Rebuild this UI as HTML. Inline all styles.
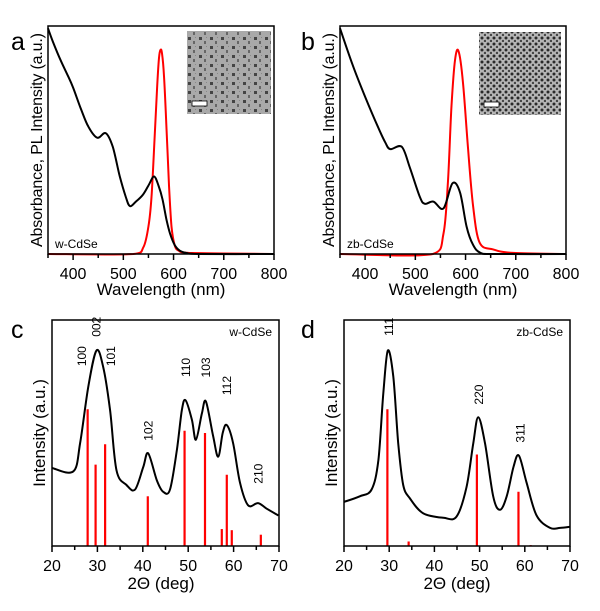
<!DOCTYPE html>
<html><head><meta charset="utf-8"><style>
html,body{margin:0;padding:0;background:#fff;}
svg{display:block;font-family:"Liberation Sans",Arial,sans-serif;}
</style></head><body>
<svg id="fig" width="600" height="611" viewBox="0 0 600 611" xmlns="http://www.w3.org/2000/svg">
<defs>
<pattern id="dotsA" width="11" height="9" patternUnits="userSpaceOnUse">
<rect width="11" height="9" fill="#a9a9a9"/>
<rect x="1" y="1" width="3" height="3" fill="#444"/>
<rect x="6" y="5" width="2" height="3" fill="#666"/>
<rect x="8" y="1" width="1" height="1" fill="#888"/>
</pattern>
<pattern id="dotsB" width="6" height="6" patternUnits="userSpaceOnUse">
<rect width="6" height="6" fill="#b5b5b5"/>
<circle cx="2" cy="2" r="1.5" fill="#2a2a2a"/>
<circle cx="5" cy="5" r="1.2" fill="#444"/>
</pattern>
</defs>
<g id="root"></g>
</svg>
<script>
// ---- Panel a data (absorbance & PL, w-CdSe) ----
const absA_x = [350,360,375,390,400,415,430,448,465,479,493,505,513,525,539,550,561,570,578,586,593,602,612,625,650,800];
const absA_y = [0.99,0.93,0.85,0.78,0.73,0.64,0.56,0.51,0.53,0.47,0.34,0.25,0.21,0.23,0.26,0.30,0.34,0.30,0.24,0.15,0.09,0.04,0.015,0.005,0,0];
const plA_x = [350,520,540,550,556,562,567,571,574,577,581,586,591,596,602,610,630,800];
const plA_y = [0,0,0.03,0.12,0.25,0.5,0.72,0.86,0.895,0.88,0.78,0.55,0.3,0.12,0.04,0.015,0.005,0];
// ---- Panel b data (zb-CdSe) ----
const absB_x = [350,375,400,425,440,450,473,489,509,519,536,556,574,589,602,615,630,660,800];
const absB_y = [0.99,0.83,0.69,0.56,0.49,0.46,0.47,0.38,0.25,0.22,0.23,0.20,0.31,0.27,0.12,0.04,0.005,0,0];
const plB_x = [350,535,556,565,572,579,586,595,605,615,628,655,695,800];
const plB_y = [0,0,0.09,0.32,0.65,0.85,0.89,0.75,0.46,0.21,0.05,0.02,0.005,0];
// ---- Panel c data (XRD w-CdSe) ----
const xrdC_x = [20,24.7,26.2,28.0,29.8,31.3,32.8,34.2,36.4,38.3,40.1,41.2,43.1,44.5,46.0,47.5,48.6,49.4,50.8,51.7,53.0,53.9,55.5,56.6,57.6,58.5,59.9,61.4,63.2,65.4,67.3,69.9];
const xrdC_y = [0.345,0.33,0.455,0.705,0.865,0.79,0.60,0.335,0.27,0.25,0.35,0.41,0.29,0.24,0.25,0.425,0.60,0.645,0.56,0.47,0.585,0.64,0.485,0.395,0.50,0.535,0.455,0.28,0.18,0.19,0.165,0.135];
const refC_pos = [27.85,29.6,31.7,41.1,49.2,53.7,57.4,58.5,59.6,66.0];
const refC_int = [0.605,0.36,0.45,0.22,0.51,0.50,0.075,0.315,0.07,0.05];
const hklC_lbl = ["100","002","101","102","110","103","112","210"];
const hklC_pos = [26.6,29.8,33.0,41.3,49.5,53.9,58.6,65.5];
const hklC_val = [0.84,0.97,0.84,0.51,0.79,0.79,0.71,0.32];
// ---- Panel d data (XRD zb-CdSe) ----
const xrdD_x = [20,23.5,26.1,27.6,28.7,29.7,30.9,32.0,33.1,34.6,37.5,42.0,44.9,47.1,48.6,49.7,51.2,53.0,54.5,56.0,57.5,58.7,60.4,62.6,65.6,67.8,70];
const xrdD_y = [0.195,0.22,0.25,0.38,0.675,0.865,0.75,0.455,0.27,0.21,0.145,0.125,0.13,0.26,0.455,0.57,0.455,0.22,0.16,0.22,0.35,0.40,0.28,0.135,0.08,0.08,0.085];
const refD_pos = [29.6,34.3,49.4,58.6,61.3];
const refD_int = [0.605,0.02,0.405,0.24,0.004];
const hklD_lbl = ["111","220","311"];
const hklD_pos = [30.0,49.9,59.0];
const hklD_val = [0.97,0.67,0.50];
const ticksWl = [400,500,600,700,800];
const ticks2t = [20,30,40,50,60,70];

const NS = "http://www.w3.org/2000/svg";
const root = document.getElementById('root');
function el(tag, attrs, parent, text){
  const e = document.createElementNS(NS, tag);
  for (const k in attrs) e.setAttribute(k, attrs[k]);
  if (text !== undefined) e.textContent = text;
  (parent||root).appendChild(e);
  return e;
}
function panel(L,R,T,B,x0,x1){
  return {sx:v=>L+(v-x0)/(x1-x0)*(R-L), sy:v=>B-v*(B-T), L,R,T,B};
}
function path(p, xs, ys, color, name){
  const P = xs.map((x,i)=>[p.sx(x), p.sy(ys[i])]);
  let d = 'M'+P[0][0].toFixed(1)+','+P[0][1].toFixed(1);
  for (let i=0;i<P.length-1;i++){
    const p0=P[i-1]||P[i], p1=P[i], p2=P[i+1], p3=P[i+2]||P[i+1];
    const t=1/6;
    let c1=[p1[0]+(p2[0]-p0[0])*t, p1[1]+(p2[1]-p0[1])*t];
    let c2=[p2[0]-(p3[0]-p1[0])*t, p2[1]-(p3[1]-p1[1])*t];
    c1[0]=Math.min(Math.max(c1[0],p1[0]),p2[0]); c2[0]=Math.min(Math.max(c2[0],p1[0]),p2[0]);
    d+=' C'+c1[0].toFixed(1)+','+c1[1].toFixed(1)+' '+c2[0].toFixed(1)+','+c2[1].toFixed(1)+' '+p2[0].toFixed(1)+','+p2[1].toFixed(1);
  }
  const e = el('path',{d:d,fill:'none',stroke:color,'stroke-width':2,'stroke-linejoin':'round'});
  
  
}
function frame(p, name){
  const e = el('rect',{x:p.L,y:p.T,width:p.R-p.L,height:p.B-p.T,fill:'none',stroke:'#000','stroke-width':1.5});
  
  
}
function xticks(p, major, minorStep, x0, x1, name){
  const g = el('g',{});
  
  
  for (let v=x0; v<=x1+1e-9; v+=minorStep){
    const isMaj = major.some(m=>Math.abs(m-v)<1e-6);
    el('line',{x1:p.sx(v),x2:p.sx(v),y1:p.B,y2:p.B+(isMaj?6:4),stroke:'#000','stroke-width':1.5},g);
  }
  major.forEach(m=>{
    const t = el('text',{x:p.sx(m),y:p.B+25,'text-anchor':'middle','font-size':16,fill:'#000'},g,String(m));
    
    
  });
}
function txt(x,y,s,attrs,name){
  const t = el('text',Object.assign({x:x,y:y,fill:'#000'},attrs),root,s);
  
  
  return t;
}
function bars(p, pos, val, name){
  pos.forEach((x,i)=>{
    const b = el('line',{x1:p.sx(x),x2:p.sx(x),y1:p.B,y2:p.sy(val[i]),stroke:'#f00','stroke-width':2.2});
    
    
  });
}
function hkl(p, lbl, pos, val){
  lbl.forEach((s,i)=>{
    const x = p.sx(pos[i]), y = p.sy(val[i]);
    const t = el('text',{x:0,y:0,'font-size':12,'text-anchor':'middle',transform:`translate(${x+4},${y}) rotate(-90)`},root,s);
    
    
  });
}
function inset(x,y,w,h,fill,name){
  const g = el('g',{});
  
  
  el('rect',{x:x,y:y,width:w,height:h,fill:fill},g);
  el('rect',{x:x+5,y:y+h-13,width:15,height:5,fill:'#fff',stroke:'#000','stroke-width':0.8},g);
}

// Panel a
const pa = panel(48,274,26,254,350,800);
inset(187,31,84,83,'url(#dotsA)','tem-inset-a');
path(pa, plA_x, plA_y, '#f00', 'pl-curve-a');
path(pa, absA_x, absA_y, '#000', 'absorbance-curve-a');
frame(pa,'plot-frame-a');
xticks(pa, ticksWl, 50, 350, 800, 'x-axis-a');
txt(161,295,'Wavelength (nm)',{'text-anchor':'middle','font-size':17},'x-axis-title-a');
txt(0,0,'Absorbance, PL Intensity (a.u.)',{'text-anchor':'middle','font-size':16,textLength:214,transform:'translate(42,140) rotate(-90)'},'y-axis-title-a');
txt(55,248,'w-CdSe',{'font-size':12},'sample-label-a');
txt(11,50,'a',{'font-size':25},'panel-letter-a');

// Panel b
const pb = panel(340,566,26,254,350,800);
inset(479,32,82,83,'url(#dotsB)','tem-inset-b');
path(pb, plB_x, plB_y, '#f00', 'pl-curve-b');
path(pb, absB_x, absB_y, '#000', 'absorbance-curve-b');
frame(pb,'plot-frame-b');
xticks(pb, ticksWl, 50, 350, 800, 'x-axis-b');
txt(453,295,'Wavelength (nm)',{'text-anchor':'middle','font-size':17},'x-axis-title-b');
txt(0,0,'Absorbance, PL Intensity (a.u.)',{'text-anchor':'middle','font-size':16,textLength:214,transform:'translate(334,140) rotate(-90)'},'y-axis-title-b');
txt(347,248,'zb-CdSe',{'font-size':12},'sample-label-b');
txt(301,50,'b',{'font-size':25},'panel-letter-b');

// Panel c
const pc = panel(52,279,320,546,20,70);
bars(pc, refC_pos, refC_int, 'reference-bar-c');
path(pc, xrdC_x, xrdC_y, '#000', 'xrd-curve-c');
hkl(pc, hklC_lbl, hklC_pos, hklC_val);
frame(pc,'plot-frame-c');
xticks(pc, ticks2t, 5, 20, 70, 'x-axis-c');
txt(161,589,'2Θ (deg)',{'text-anchor':'middle','font-size':17},'x-axis-title-c');
txt(0,0,'Intensity (a.u.)',{'text-anchor':'middle','font-size':17,transform:'translate(45,433) rotate(-90)'},'y-axis-title-c');
txt(272,336,'w-CdSe',{'font-size':12,'text-anchor':'end'},'sample-label-c');
txt(11,338,'c',{'font-size':25},'panel-letter-c');

// Panel d
const pd = panel(344,570,320,546,20,70);
bars(pd, refD_pos, refD_int, 'reference-bar-d');
path(pd, xrdD_x, xrdD_y, '#000', 'xrd-curve-d');
hkl(pd, hklD_lbl, hklD_pos, hklD_val);
frame(pd,'plot-frame-d');
xticks(pd, ticks2t, 5, 20, 70, 'x-axis-d');
txt(457,589,'2Θ (deg)',{'text-anchor':'middle','font-size':17},'x-axis-title-d');
txt(0,0,'Intensity (a.u.)',{'text-anchor':'middle','font-size':17,transform:'translate(337,433) rotate(-90)'},'y-axis-title-d');
txt(563,336,'zb-CdSe',{'font-size':12,'text-anchor':'end'},'sample-label-d');
txt(301,338,'d',{'font-size':25},'panel-letter-d');
</script>
</body></html>
